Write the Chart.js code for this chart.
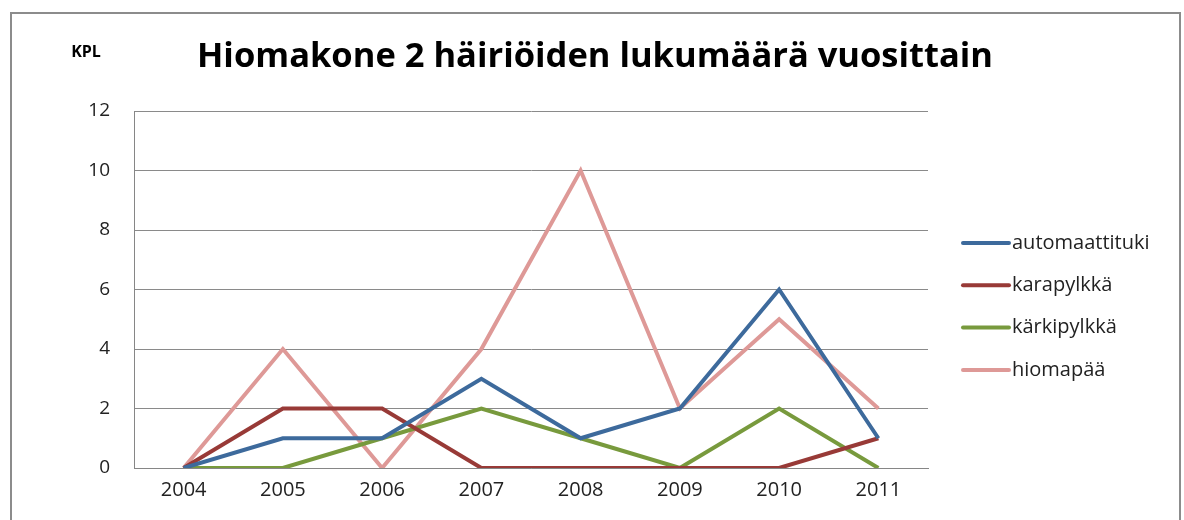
<!DOCTYPE html>
<html>
<head>
<meta charset="utf-8">
<script src="https://cdn.jsdelivr.net/npm/chart.js@4.4.1/dist/chart.umd.min.js"></script>
<style>
  html, body { margin: 0; padding: 0; background: #fff; }
  #wrap { width: 1184px; height: 520px; position: relative; }
</style>
</head>
<body>
<div id="wrap"><canvas id="chart"></canvas></div>
<script>
const years = ["2004", "2005", "2006", "2007", "2008", "2009", "2010", "2011"];
const seriesNames = ["automaattituki", "karapylkkä", "kärkipylkkä", "hiomapää"];
const automaattituki = [0, 1, 1, 3, 1, 2, 6, 1];
const karapylkka = [0, 2, 2, 0, 0, 0, 0, 1];
const karkipylkka = [0, 0, 1, 2, 1, 0, 2, 0];
const hiomapaa = [0, 4, 0, 4, 10, 2, 5, 2];
const yTicks = [0, 2, 4, 6, 8, 10, 12];

const titleText = "Hiomakone 2 häiriöiden lukumäärä vuosittain";
const unitText = "KPL";
const colors = ["#3d6a9c", "#983a37", "#789a3d", "#de9997"];
const FONT = "'Open Sans', sans-serif";

// frame, title, unit label and the right-hand legend
const decorations = {
    id: "decorations",
    afterDraw(chart) {
        const ctx = chart.ctx;
        ctx.save();
        ctx.strokeStyle = "#8c8c8c";
        ctx.lineWidth = 2;
        ctx.strokeRect(11, 13, 1169, 520);

        ctx.fillStyle = "#000";
        ctx.textBaseline = "middle";
        ctx.textAlign = "center";
        ctx.font = "bold 34.5px " + FONT;
        ctx.fillText(titleText, 595, 57);

        ctx.font = "bold 16px " + FONT;
        ctx.fillText(unitText, 86, 52);

        ctx.textAlign = "left";
        ctx.font = "20px " + FONT;
        chart.data.datasets.forEach((ds, i) => {
            let y = 243 + i * 42.3;
            ctx.strokeStyle = ds.borderColor;
            ctx.lineWidth = 4;
            ctx.lineCap = "round";
            ctx.beginPath();
            ctx.moveTo(963, y);
            ctx.lineTo(1009, y);
            ctx.stroke();
            ctx.fillStyle = "#222";
            ctx.fillText(ds.label, 1012, y);
        });
        ctx.restore();
    }
};

const seriesData = [automaattituki, karapylkka, karkipylkka, hiomapaa];

new Chart(document.getElementById("chart"), {
    type: "line",
    data: {
        labels: years,
        datasets: seriesData.map((d, i) => ({
            label: seriesNames[i],
            data: d,
            borderColor: colors[i],
            backgroundColor: colors[i],
            borderWidth: 4,
            pointRadius: 0,
            tension: 0,
            borderJoinStyle: "miter"
        }))
    },
    options: {
        responsive: true,
        maintainAspectRatio: false,
        animation: false,
        layout: { padding: { top: 111, right: 256, bottom: 0, left: 0 } },
        plugins: {
            legend: { display: false },
            title: { display: false },
            tooltip: { enabled: false }
        },
        scales: {
            x: {
                offset: true,
                grid: { display: false, drawTicks: false },
                border: { color: "#868686", width: 1 },
                ticks: { color: "#222", font: { family: FONT, size: 20 }, padding: 10, maxRotation: 0 },
                afterFit: s => { s.height = 52; }
            },
            y: {
                min: 0,
                max: 12,
                afterBuildTicks: s => { s.ticks = yTicks.map(v => ({ value: v })); },
                grid: { color: "#8a8a8a", lineWidth: 1, drawTicks: false },
                border: { color: "#868686", width: 1 },
                ticks: { color: "#222", font: { family: FONT, size: 19 }, padding: 24 },
                afterFit: s => { s.width = 134; }
            }
        }
    },
    plugins: [decorations]
});
</script>
</body>
</html>
